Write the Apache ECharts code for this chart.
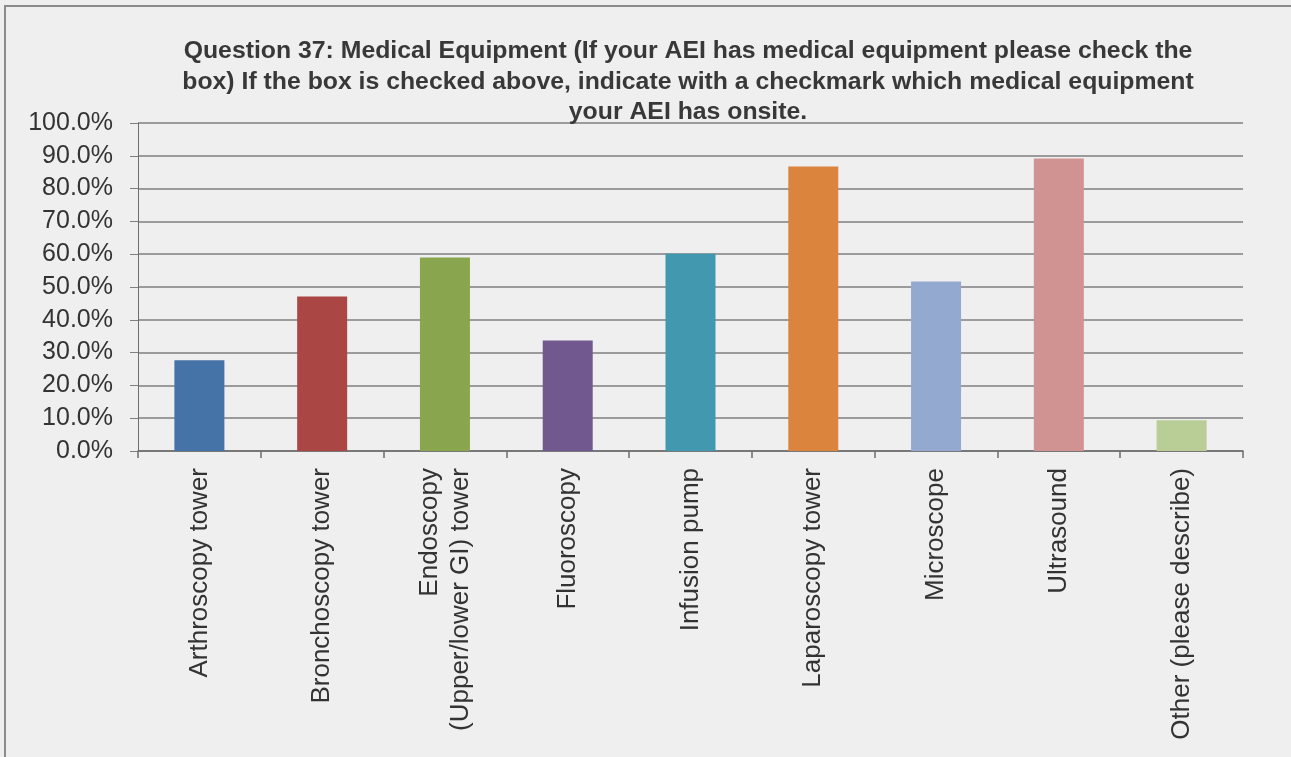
<!DOCTYPE html>
<html>
<head>
<meta charset="utf-8">
<script src="https://cdn.jsdelivr.net/npm/echarts@6/dist/echarts.min.js"></script>
<style>
html, body { margin: 0; padding: 0; background: #efefef; }
.frame {
  position: absolute; left: 4px; top: 5px; width: 1300px; height: 760px;
  border-top: 2px solid #8c8c8c; border-left: 2px solid #8c8c8c;
}
#chart { position: absolute; left: 0; top: 0; width: 1291px; height: 757px; }
</style>
</head>
<body>
<div class="frame"></div>
<div id="chart"></div>
<script>
// categories and answer shares (%)
const categories = [
  'Arthroscopy tower',
  'Bronchoscopy tower',
  'Endoscopy\n(Upper/lower GI) tower',
  'Fluoroscopy',
  'Infusion pump',
  'Laparoscopy tower',
  'Microscope',
  'Ultrasound',
  'Other (please describe)'
];
const values = [27.7, 47.1, 59.0, 33.7, 60.1, 86.7, 51.7, 89.2, 9.4];
const barColors = ['#4572A7', '#AA4643', '#89A54E', '#71588F', '#4198AF', '#DB843D', '#93A9CF', '#D19392', '#B9CD96'];
const yTicks = [0, 10, 20, 30, 40, 50, 60, 70, 80, 90, 100];

const titleText = 'Question 37: Medical Equipment (If your AEI has medical equipment please check the\n' +
  'box) If the box is checked above, indicate with a checkmark which medical equipment\n' +
  'your AEI has onsite.';

const myChart = echarts.init(document.getElementById('chart'));
const option = {
  backgroundColor: 'transparent',
  animation: false,
  title: {
    text: titleText,
    left: 683,
    top: 31,
    textAlign: 'center',
    textStyle: {
      fontFamily: 'Liberation Sans, Arial, sans-serif',
      fontSize: 24.8,
      fontWeight: 'bold',
      color: '#383838',
      lineHeight: 30.5
    }
  },
  grid: { left: 138, right: 48, top: 123, bottom: 306, containLabel: false },
  xAxis: {
    type: 'category',
    data: categories,
    axisLine: { lineStyle: { color: '#6e6e6e', width: 1.5 } },
    axisTick: { show: true, length: 7, lineStyle: { color: '#6e6e6e', width: 1.5 } },
    axisLabel: {
      rotate: 90,
      margin: 17,
      interval: 0,
      fontFamily: 'Liberation Sans, Arial, sans-serif',
      fontSize: 26,
      lineHeight: 31,
      color: '#333333'
    }
  },
  yAxis: {
    type: 'value',
    min: yTicks[0],
    max: yTicks[yTicks.length - 1],
    interval: 10,
    axisLine: { show: true, lineStyle: { color: '#6e6e6e', width: 1 } },
    axisTick: { show: true, length: 8, lineStyle: { color: '#7f7f7f' } },
    splitLine: { lineStyle: { color: '#7f7f7f', width: 1.5 } },
    axisLabel: {
      margin: 25,
      fontFamily: 'Liberation Sans, Arial, sans-serif',
      fontSize: 25,
      color: '#333333',
      formatter: v => v.toFixed(1) + '%'
    }
  },
  series: [{
    type: 'bar',
    barWidth: 50,
    data: values.map((v, i) => ({ value: v, itemStyle: { color: barColors[i] } }))
  }]
};
myChart.setOption(option);
</script>
</body>
</html>
